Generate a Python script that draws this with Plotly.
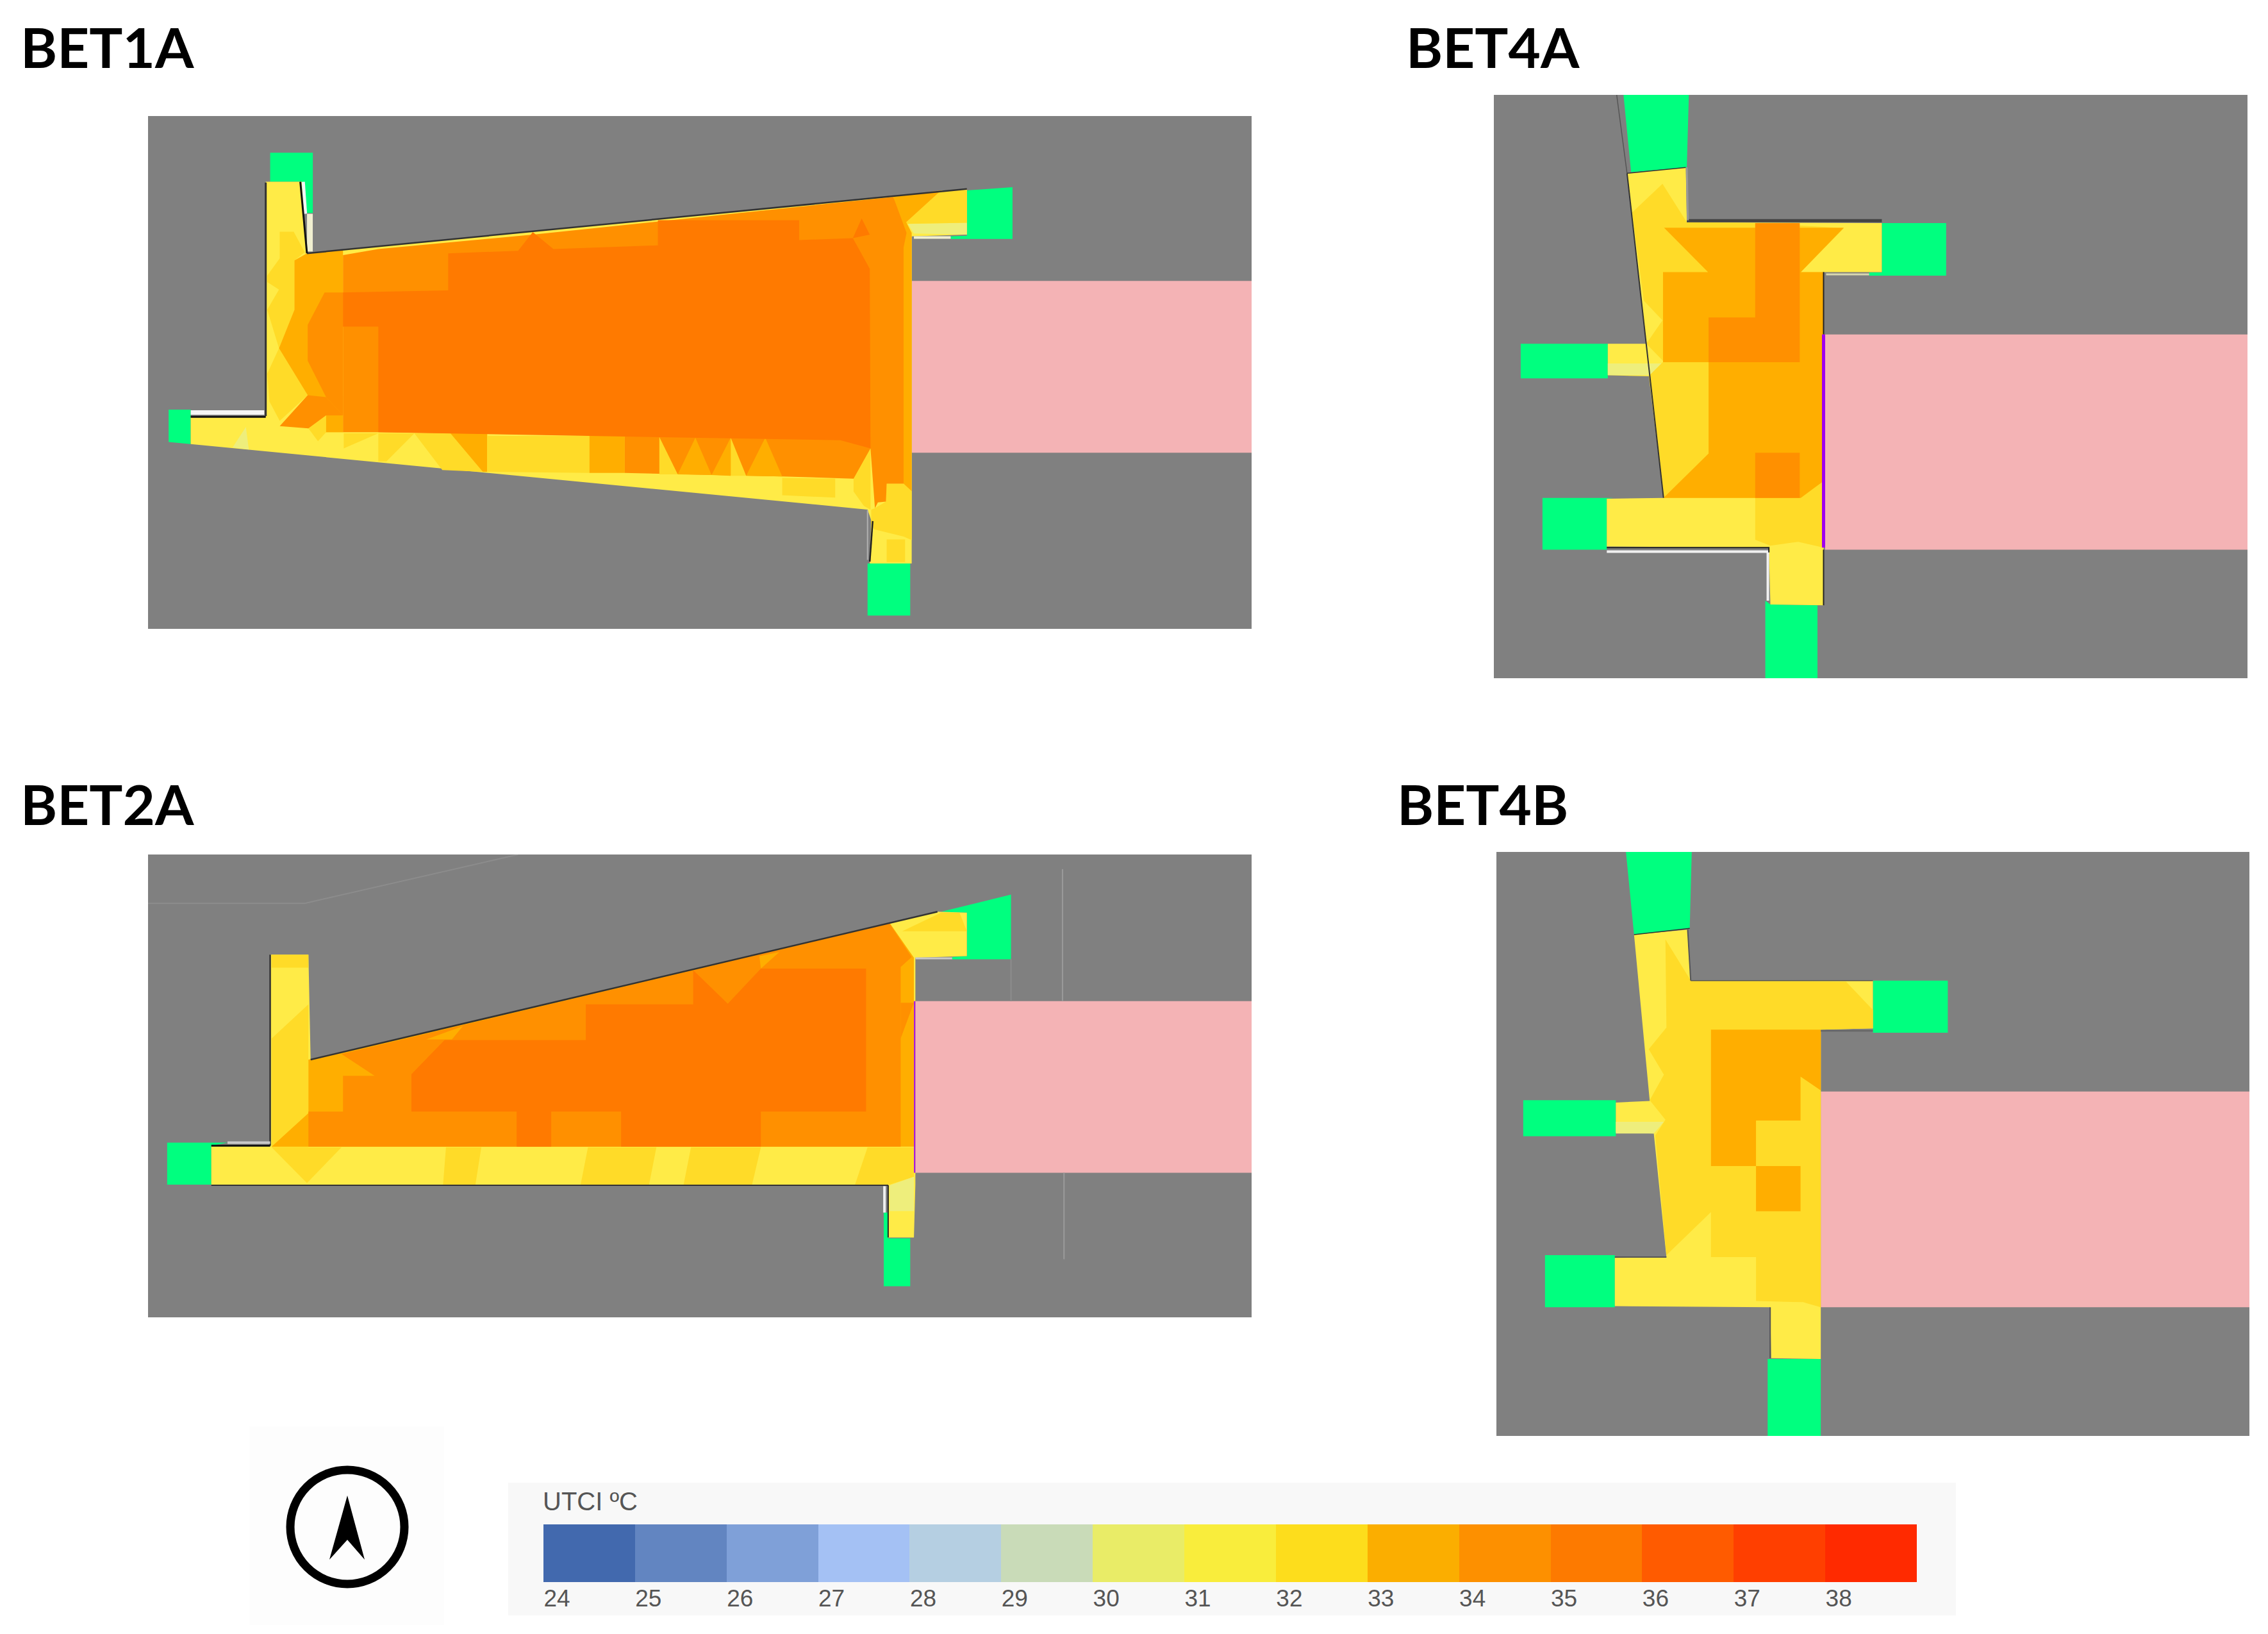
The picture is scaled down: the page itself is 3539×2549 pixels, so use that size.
import plotly.graph_objects as go

W, H = 3539, 2549

# UTCI legend
bands = list(range(24, 39))
band_edges = list(range(24, 40))
band_colors = ["#4269AE", "#6285C1", "#7FA0D8", "#A4C1F4", "#B5CFE2", "#C9DBB8", "#E9EC67", "#F9ED3C",
               "#FDDD1C", "#FBAE00", "#FD9000", "#FD7A00", "#FF5B00", "#FF3F00", "#FF2A00"]

# colours of the UTCI classes as they show on the plans
plan_colors = {30: "#EEEE7C", 31: "#FFEB47", 32: "#FFDB28", 33: "#FFAE00", 34: "#FF9000", 35: "#FF7A00"}
GREEN = "#00FF7F"
PINK = "#F4B3B5"
GREY = "#808080"

# each plan: pink block, green openings, UTCI zones painted in order, thin lines
bet1a_pink = [(1065, 514), (1527, 514), (1527, 992), (1065, 992)]
bet1a_green = [
    [(193, 157), (251, 157), (251, 325), (236, 325), (236, 238), (193, 238)],
    [(55, 872), (85, 872), (85, 968), (55, 962)],
    [(1140, 262), (1202, 253), (1202, 397), (1118, 397), (1118, 390), (1140, 388)],
    [(1005, 1300), (1063, 1300), (1063, 1445), (1005, 1445)],
]
bet1a_zones = [
    (31, [(187, 238), (236, 238), (243, 437), (1140, 258), (1140, 385), (1065, 390), (1065, 1300), (1008, 1300),
          (1010, 1180), (1005, 1150), (85, 968), (85, 893), (187, 890)]),
    (30, [(160, 920), (142, 977), (164, 983)]),
    (30, [(1060, 355), (1140, 352), (1140, 385), (1068, 382)]),
    (32, [(189, 499), (206, 451), (206, 377), (225, 377), (240, 434), (226, 457), (226, 594), (205, 701), (244, 832),
          (206, 903), (192, 849), (189, 772), (205, 701), (189, 594), (205, 538), (189, 517)]),
    (32, [(245, 924), (269, 888), (269, 935), (258, 960)]),
    (32, [(293, 938), (340, 938), (293, 980)]),
    (32, [(340, 938), (389, 938), (351, 1016), (340, 1016)]),
    (32, [(389, 938), (438, 938), (482, 1045), (427, 1040)]),
    (33, [(438, 938), (488, 938), (488, 1045), (482, 1045)]),
    (32, [(488, 945), (627, 945), (627, 1048), (488, 1045)]),
    (32, [(889, 1062), (961, 1064), (961, 1117), (889, 1110)]),
    (32, [(986, 1064), (1009, 980), (1009, 1150), (1000, 1140), (986, 1100)]),
    (32, [(1010, 1150), (1015, 1146), (1030, 1128), (1031, 1078), (1054, 1078), (1065, 1099), (1065, 1235),
          (1054, 1225), (1014, 1205), (1010, 1190)]),
    (32, [(1031, 1233), (1056, 1233), (1056, 1296), (1031, 1296)]),
    (32, [(1105, 262), (1140, 262), (1140, 352), (1055, 355)]),
    (33, [(1040, 280), (1105, 262), (1055, 355)]),
    (33, [(226, 457), (243, 437), (292, 428), (292, 888), (269, 888), (244, 832), (205, 701), (226, 594)]),
    (33, [(269, 888), (292, 888), (292, 935), (269, 935)]),
    (33, [(627, 945), (675, 945), (675, 1048), (627, 1048)]),
    (33, [(1040, 280), (1065, 380), (1065, 1099), (1054, 1078), (1054, 400)]),
    (34, [(244, 832), (269, 837), (292, 888), (269, 888), (245, 924), (206, 918)]),
    (34, [(267, 546), (244, 636), (244, 736), (269, 837), (292, 888), (292, 546)]),
    (34, [(292, 442), (340, 425), (550, 385), (1040, 280), (1058, 380), (1054, 420), (1054, 1078), (1031, 1078),
          (1030, 1128), (1019, 1130), (1015, 1146), (1009, 980), (986, 1064), (889, 1058), (675, 1048), (675, 945),
          (340, 935), (292, 935)]),
    (32, [(722, 948), (747, 1052), (722, 1052)]),
    (33, [(771, 950), (793, 1054), (747, 1052)]),
    (33, [(819, 950), (819, 1056), (793, 1054)]),
    (32, [(819, 950), (840, 1056), (819, 1056)]),
    (33, [(866, 950), (889, 1058), (840, 1056)]),
    (35, [(435, 437), (530, 430), (550, 378), (578, 425), (720, 415), (720, 345), (912, 345), (912, 400), (985, 395),
          (1008, 480), (1009, 980), (968, 957), (340, 935), (340, 641), (292, 641), (292, 546), (435, 540)]),
    (35, [(997, 340), (1008, 385), (985, 395)]),
]
bet1a_lines = [
    ("#F5F5F5", 7, [(85, 880), (185, 880)]),
    ("#111111", 3, [(85, 892), (187, 892)]),
    ("#333333", 3, [(187, 240), (187, 890)]),
    ("#333333", 2.5, [(243, 437), (1140, 258)]),
    ("#F0EFD0", 9, [(247, 327), (247, 432)]),
    ("#F5F5F5", 5, [(238, 238), (241, 327)]),
    ("#111111", 3, [(234, 238), (243, 437)]),
    ("#B0B0B0", 2, [(1005, 1152), (1005, 1290)]),
    ("#222222", 2.5, [(1012, 1182), (1008, 1295)]),
    ("#F0EFD0", 4, [(1068, 393), (1118, 393)]),
]

bet4a_pink = [(693, 656), (1527, 656), (1527, 1205), (693, 1205)]
bet4a_green = [
    [(295, 45), (424, 45), (420, 230), (310, 242)],
    [(805, 372), (932, 372), (932, 506), (780, 506), (780, 498), (805, 498)],
    [(92, 680), (264, 680), (264, 768), (92, 768)],
    [(135, 1073), (275, 1073), (262, 1075), (262, 1205), (135, 1205)],
    [(575, 1335), (585, 1345), (678, 1347), (678, 1533), (575, 1533)],
]
bet4a_zones = [
    (31, [(302, 245), (418, 230), (420, 370), (805, 372), (805, 497), (690, 497), (690, 1347), (585, 1345),
          (582, 1200), (262, 1197), (262, 1075), (374, 1073), (347, 763), (264, 760), (264, 680), (340, 680)]),
    (30, [(264, 730), (372, 730), (347, 760), (264, 760)]),
    (32, [(372, 272), (420, 370), (560, 372), (730, 385), (645, 497), (690, 497), (690, 1200), (640, 1185),
          (585, 1195), (555, 1180), (555, 1073), (374, 1073), (345, 762), (374, 725), (340, 680), (335, 570),
          (312, 345)]),
    (31, [(335, 570), (372, 620), (340, 680)]),
    (33, [(375, 384), (730, 384), (645, 497), (690, 497), (690, 1030), (645, 1073), (374, 1073), (463, 960),
          (463, 727), (373, 727), (373, 497), (462, 497)]),
    (34, [(555, 372), (643, 372), (643, 727), (463, 727), (463, 613), (555, 613)]),
    (34, [(555, 958), (643, 958), (643, 1073), (555, 1073)]),
]
bet4a_lines = [
    ("#333333", 2, [(302, 245), (374, 1073)]),
    ("#555555", 1.5, [(280, 30), (302, 245)]),
    ("#333333", 1.5, [(302, 245), (418, 230)]),
    ("#444444", 5, [(420, 366), (805, 366)]),
    ("#999999", 3, [(420, 230), (422, 365)]),
    ("#F0F0F0", 4, [(262, 1210), (580, 1210), (580, 1335)]),
    ("#222222", 2, [(262, 1200), (582, 1200), (582, 1212)]),
    ("#222222", 2, [(690, 497), (690, 656)]),
    ("#222222", 2, [(690, 1205), (690, 1347)]),
    ("#A000F0", 5, [(690, 656), (690, 1200)]),
    ("#D8D8B0", 3, [(695, 503), (780, 503)]),
]

bet2a_pink = [(1070, 520), (1527, 520), (1527, 1072), (1070, 1072)]
bet2a_green = [
    [(1105, 232), (1200, 177), (1200, 385), (1120, 385), (1120, 378), (1140, 375), (1140, 235)],
    [(53, 975), (135, 975), (113, 985), (113, 1110), (53, 1110)],
    [(1027, 1200), (1033, 1200), (1033, 1283), (1063, 1283), (1063, 1437), (1027, 1437)],
]
bet2a_zones = [
    (31, [(193, 370), (245, 370), (248, 710), (1100, 232), (1140, 235), (1140, 375), (1070, 380), (1070, 1110),
          (1068, 1280), (1033, 1280), (1033, 1112), (113, 1110), (113, 985), (193, 985)]),
    (32, [(195, 370), (245, 370), (245, 412), (195, 412)]),
    (32, [(195, 640), (245, 530), (245, 990), (195, 990)]),
    (32, [(195, 990), (290, 990), (243, 1105)]),
    (32, [(432, 990), (480, 990), (472, 1110), (428, 1110)]),
    (32, [(625, 990), (718, 990), (708, 1110), (615, 1110)]),
    (32, [(765, 990), (860, 990), (848, 1110), (755, 1110)]),
    (32, [(1005, 990), (1068, 990), (1068, 1085), (1035, 1110), (988, 1110)]),
    (32, [(1105, 235), (1130, 235), (1140, 295), (1052, 295)]),
    (30, [(1035, 1112), (1068, 1085), (1068, 1195), (1035, 1195)]),
    (33, [(245, 708), (1035, 268), (1068, 380), (1068, 988), (195, 988), (245, 880)]),
    (34, [(292, 760), (335, 760), (290, 690), (1035, 270), (1065, 378), (1050, 410), (1050, 988), (245, 988),
          (245, 875), (292, 875)]),
    (34, [(1050, 525), (1068, 525), (1050, 640)]),
    (33, [(405, 643), (440, 643), (455, 600)]),
    (33, [(860, 415), (885, 362), (858, 375)]),
    (35, [(385, 755), (430, 645), (622, 645), (622, 530), (768, 530), (768, 420), (815, 528), (860, 415), (1003, 415),
          (1003, 875), (860, 875), (860, 988), (670, 988), (670, 875), (575, 875), (575, 988), (528, 988), (528, 875),
          (385, 875)]),
]
bet2a_lines = [
    ("#8C8C8C", 2, [(27, 205), (240, 205), (530, 48)]),
    ("#9A9A9A", 2, [(1270, 95), (1270, 520)]),
    ("#9A9A9A", 2, [(1272, 1072), (1272, 1350)]),
    ("#8C8C8C", 2, [(1200, 385), (1200, 520)]),
    ("#333333", 2.5, [(248, 708), (1100, 232)]),
    ("#333333", 2.5, [(193, 370), (193, 985)]),
    ("#111111", 3, [(113, 985), (193, 985)]),
    ("#C8C8C8", 4, [(135, 975), (193, 975)]),
    ("#333333", 2, [(113, 1112), (1033, 1112)]),
    ("#F0F0F0", 4, [(1028, 1115), (1028, 1200)]),
    ("#222222", 2, [(1033, 1112), (1033, 1280)]),
    ("#C8C8C8", 3, [(1070, 382), (1120, 382)]),
    ("#A000F0", 2, [(1069, 520), (1069, 1072)]),
]

bet4b_pink = [(685, 658), (1532, 658), (1532, 1208), (685, 1208)]
bet4b_green = [
    [(300, 47), (430, 47), (426, 242), (316, 258)],
    [(788, 375), (936, 375), (936, 508), (788, 508)],
    [(97, 680), (280, 680), (280, 772), (97, 772)],
    [(140, 1075), (278, 1075), (278, 1208), (140, 1208)],
    [(580, 1340), (685, 1340), (685, 1536), (580, 1536)],
]
bet4b_zones = [
    (31, [(316, 258), (422, 245), (428, 375), (788, 375), (788, 497), (685, 500), (685, 1340), (587, 1338),
          (585, 1208), (278, 1205), (278, 1082), (380, 1080), (355, 765), (280, 762), (280, 686), (347, 682)]),
    (30, [(280, 735), (375, 735), (355, 765), (280, 765)]),
    (32, [(378, 270), (428, 375), (735, 378), (788, 450), (788, 497), (685, 500), (685, 1208), (650, 1195),
          (557, 1192), (557, 1080), (468, 1080), (468, 965), (380, 1075), (358, 770), (378, 730), (347, 680),
          (375, 615), (345, 550), (380, 495)]),
    (33, [(468, 500), (685, 500), (685, 655), (645, 620), (645, 732), (557, 732), (557, 848), (468, 848)]),
    (33, [(557, 848), (645, 848), (645, 963), (557, 963)]),
]
bet4b_lines = [
    ("#555555", 2, [(422, 245), (428, 375)]),
    ("#333333", 1.5, [(316, 258), (426, 242)]),
    ("#555555", 1.5, [(428, 375), (788, 375)]),
    ("#666666", 2.5, [(685, 503), (788, 503)]),
    ("#555555", 2, [(278, 1080), (380, 1080)]),
    ("#555555", 2, [(585, 1208), (585, 1338)]),
]

# title, title pos (px), plot rect (px), plan units shown, data
plans = [
    ("BET1A", (30, 72), (231, 181, 1953, 981), (27, 1527, 55, 1482), bet1a_pink, bet1a_green, bet1a_zones, bet1a_lines),
    ("BET4A", (2192, 72), (2331, 148, 3507, 1058), (39, 1527, 45, 1533), bet4a_pink, bet4a_green, bet4a_zones, bet4a_lines),
    ("BET2A", (30, 1253), (231, 1333, 1953, 2055), (27, 1527, 48, 1537), bet2a_pink, bet2a_green, bet2a_zones, bet2a_lines),
    ("BET4B", (2178, 1253), (2335, 1329, 3510, 2240), (44, 1532, 47, 1536), bet4b_pink, bet4b_green, bet4b_zones, bet4b_lines),
]


def px(x):
    return x / W


def py(y):
    return 1 - y / H


def poly(points, color, xa, ya):
    xs = [p[0] for p in points] + [points[0][0]]
    ys = [p[1] for p in points] + [points[0][1]]
    return go.Scatter(x=xs, y=ys, mode="lines", fill="toself", fillcolor=color, line=dict(width=0),
                      xaxis=xa, yaxis=ya, hoverinfo="skip", showlegend=False)


fig = go.Figure()
axes = {}
notes = []

for i, (title, tpos, rect, view, pink, green, zones, lines) in enumerate(plans, start=1):
    xa, ya = f"x{i}", f"y{i}"
    fig.add_trace(poly(pink, PINK, xa, ya))
    for g in green:
        fig.add_trace(poly(g, GREEN, xa, ya))
    for band, pts in zones:
        fig.add_trace(poly(pts, plan_colors[band], xa, ya))
    for color, width, pts in lines:
        fig.add_trace(go.Scatter(x=[p[0] for p in pts], y=[p[1] for p in pts], mode="lines",
                                 line=dict(color=color, width=width), xaxis=xa, yaxis=ya,
                                 hoverinfo="skip", showlegend=False, cliponaxis=False))
    axes[f"xaxis{i}"] = dict(domain=[px(rect[0]), px(rect[2])], range=[view[0], view[1]], visible=False, anchor=ya)
    axes[f"yaxis{i}"] = dict(domain=[py(rect[3]), py(rect[1])], range=[view[3], view[2]], visible=False, anchor=xa)
    notes.append(dict(text=f"<b>{title}</b>", xref="paper", yref="paper", x=px(tpos[0]), y=py(tpos[1]),
                      xanchor="left", yanchor="middle", showarrow=False,
                      font=dict(family="Lato", size=87, color="#000000")))

# colour bar
colorscale = []
for i, c in enumerate(band_colors):
    colorscale.append([i / len(band_colors), c])
    colorscale.append([(i + 1) / len(band_colors), c])
fig.add_trace(go.Heatmap(z=[bands], x=band_edges, y=[0, 1], zmin=23.5, zmax=38.5, colorscale=colorscale,
                         showscale=False, xaxis="x5", yaxis="y5", hoverinfo="skip"))
axes["xaxis5"] = dict(domain=[px(848), px(2991)], range=[24, 39], anchor="y5", showgrid=False, zeroline=False,
                      tickmode="array", tickvals=bands, ticktext=[str(b) for b in bands], ticks="", showline=False,
                      ticklabelshift=21, ticklabelstandoff=0,
                      tickfont=dict(family="Liberation Sans", size=37, color="#555555"))
axes["yaxis5"] = dict(domain=[py(2468), py(2378)], range=[0, 1], visible=False, anchor="x5")

notes.append(dict(text="UTCI ºC", xref="paper", yref="paper", x=px(845), y=py(2342), xanchor="left", yanchor="middle",
                  showarrow=False, font=dict(family="Liberation Sans", size=40, color="#555555")))

shapes = [
    # legend and compass backgrounds
    dict(type="rect", xref="paper", yref="paper", x0=px(793), x1=px(3052), y0=py(2520), y1=py(2313),
         fillcolor="#F8F8F8", line=dict(width=0), layer="below"),
    dict(type="rect", xref="paper", yref="paper", x0=px(389), x1=px(693), y0=py(2535), y1=py(2225),
         fillcolor="#FDFDFD", line=dict(width=0), layer="below"),
    # north mark
    dict(type="circle", xref="paper", yref="paper", x0=px(453), x1=px(631), y0=py(2471), y1=py(2293),
         fillcolor="rgba(0,0,0,0)", line=dict(color="#000000", width=13)),
    dict(type="path", xref="paper", yref="paper", fillcolor="#000000", line=dict(width=0),
         path=f"M {px(542)} {py(2333)} L {px(569)} {py(2433)} L {px(542)} {py(2402)} L {px(514)} {py(2433)} Z"),
]

fig.update_layout(width=W, height=H, margin=dict(l=0, r=0, t=0, b=0), paper_bgcolor="#FFFFFF", plot_bgcolor=GREY,
                  showlegend=False, annotations=notes, shapes=shapes, **axes)

fig.write_html("out.html", config={"displayModeBar": False}, post_script="document.body.style.margin='0';")
